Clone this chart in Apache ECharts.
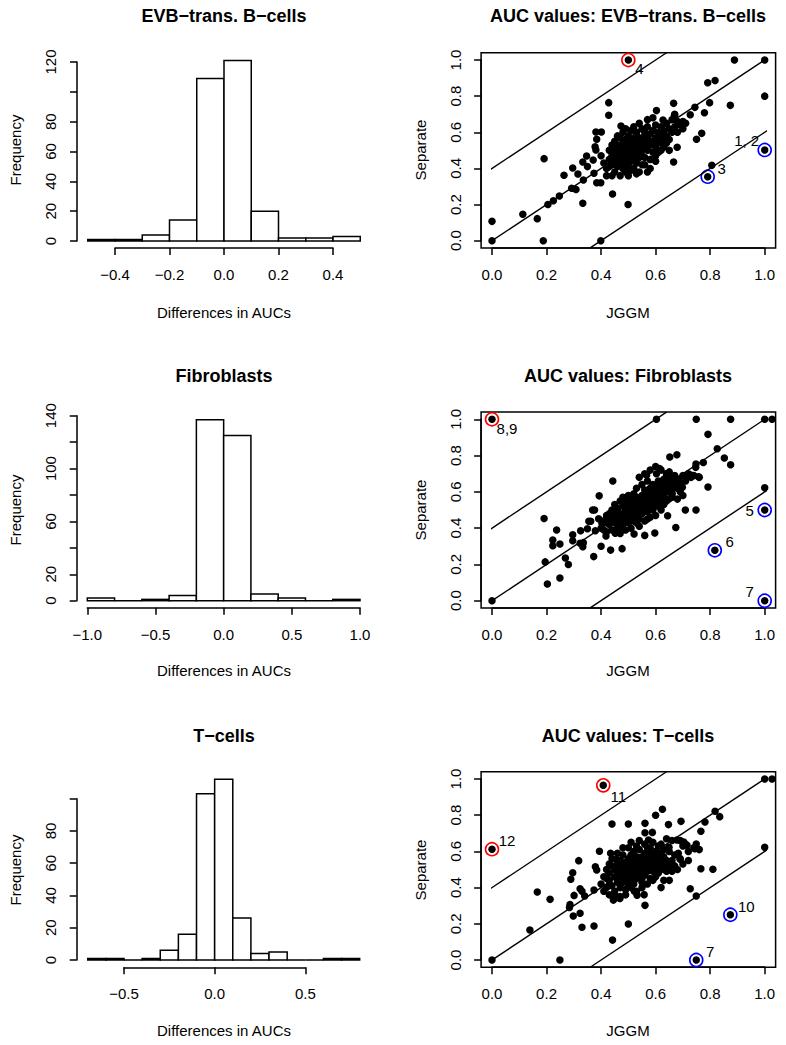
<!DOCTYPE html>
<html><head><meta charset="utf-8">
<script src="https://cdn.jsdelivr.net/npm/echarts@6/dist/echarts.min.js"></script>
<style>html,body{margin:0;padding:0;background:#fff}#c{width:786px;height:1045px}</style>
</head><body><div id="c"></div>
<script>
// ---------------- DATA ----------------
// Histograms of differences in AUCs (bin edges + counts)
const histEVBEdges = [-0.5,-0.4,-0.3,-0.2,-0.1,0.0,0.1,0.2,0.3,0.4,0.5];
const histEVBCounts = [1,1,4,14,109,121,20,2,2,3];
const histFibEdges = [-1.0,-0.8,-0.6,-0.4,-0.2,0.0,0.2,0.4,0.6,0.8,1.0];
const histFibCounts = [2,0,1,4,137,125,5,2,0,1];
const histTEdges = [-0.7,-0.6,-0.5,-0.4,-0.3,-0.2,-0.1,0.0,0.1,0.2,0.3,0.4,0.5,0.6,0.7,0.8];
const histTCounts = [1,1,0,1,6,16,103,112,26,4,5,0,0,1,1];

// Tick labels
const histEVBXLabels = ['−0.4','−0.2','0.0','0.2','0.4'];
const histEVBYLabels = ['0','20','40','60','80','','120'];
const histFibXLabels = ['−1.0','−0.5','0.0','0.5','1.0'];
const histFibYLabels = ['0','20','','60','','100','','140'];
const histTXLabels = ['−0.5','0.0','0.5'];
const histTYLabels = ['0','20','40','60','80',''];
const aucTickLabels = ['0.0','0.2','0.4','0.6','0.8','1.0'];

// AUC scatter: [JGGM, Separate]
const aucEVB = [
[0.0,0.0],[0.0,0.107],[0.113,0.146],[0.166,0.122],[0.188,0.0],[0.399,0.0],[0.191,0.454],[0.205,0.2],[0.225,0.221],[0.247,0.247],
[0.333,0.207],[0.308,0.284],[0.292,0.29],[0.335,0.336],[0.264,0.362],[0.296,0.402],[0.315,0.369],[0.333,0.436],[0.347,0.469],[0.35,0.41],
[0.371,0.447],[0.384,0.561],[0.381,0.502],[0.381,0.602],[0.401,0.602],[0.384,0.321],[0.399,0.321],[0.442,0.258],[0.499,0.2],[0.374,0.373],
[0.378,0.52],[0.428,0.764],[0.428,0.694],[0.473,0.635],[0.889,1.0],[1.0,1.0],[0.791,0.874],[0.818,0.886],[1.0,0.8],[0.666,0.760],
[0.798,0.764],[0.874,0.749],[0.603,0.72],[0.744,0.738],[0.727,0.697],[0.779,0.708],[0.669,0.694],[0.627,0.668],[0.769,0.594],[0.75,0.561],
[0.679,0.517],[0.666,0.436],[0.806,0.417],[0.791,0.354],[1.0,0.502],[0.5,1.0],[0.57,0.38],
[0.42,0.40],[0.43,0.45],[0.43,0.50],[0.44,0.42],[0.44,0.47],[0.45,0.38],[0.45,0.44],[0.45,0.51],[0.45,0.55],[0.46,0.41],
[0.46,0.46],[0.46,0.49],[0.47,0.36],[0.47,0.43],[0.47,0.52],[0.47,0.57],[0.48,0.40],[0.48,0.45],[0.48,0.48],[0.48,0.54],
[0.48,0.60],[0.49,0.38],[0.49,0.43],[0.49,0.50],[0.49,0.56],[0.50,0.41],[0.50,0.46],[0.50,0.52],[0.50,0.58],[0.50,0.36],
[0.51,0.44],[0.51,0.49],[0.51,0.55],[0.51,0.61],[0.52,0.40],[0.52,0.47],[0.52,0.51],[0.52,0.57],[0.53,0.43],[0.53,0.49],
[0.53,0.54],[0.53,0.60],[0.54,0.38],[0.54,0.46],[0.54,0.52],[0.54,0.57],[0.55,0.42],[0.55,0.50],[0.55,0.55],[0.55,0.62],
[0.56,0.46],[0.56,0.53],[0.56,0.58],[0.57,0.50],[0.57,0.56],[0.57,0.63],[0.58,0.45],[0.58,0.53],[0.58,0.59],[0.59,0.49],
[0.59,0.55],[0.59,0.61],[0.60,0.52],[0.60,0.57],[0.60,0.64],[0.60,0.47],[0.61,0.55],[0.61,0.60],[0.62,0.50],[0.62,0.58],
[0.62,0.63],[0.63,0.55],[0.63,0.61],[0.64,0.58],[0.64,0.65],[0.65,0.56],[0.65,0.62],[0.66,0.60],[0.66,0.67],[0.67,0.63],
[0.67,0.70],[0.68,0.66],[0.68,0.60],[0.69,0.64],[0.70,0.66],[0.70,0.62],[0.71,0.65],[0.63,0.52],[0.61,0.49],[0.58,0.40],
[0.56,0.42],[0.53,0.37],[0.51,0.39],[0.44,0.53],[0.46,0.58],[0.49,0.62],[0.52,0.63],[0.54,0.65],[0.57,0.67],[0.59,0.68],
[0.45,0.48],[0.47,0.47],[0.50,0.48],[0.52,0.45],[0.55,0.47],[0.57,0.52],[0.49,0.53],[0.53,0.56],[0.56,0.60],[0.43,0.41],
[0.41,0.43],[0.40,0.47],[0.42,0.36],[0.44,0.36],[0.62,0.54],[0.64,0.54],[0.60,0.44],[0.65,0.50],[0.48,0.51],[0.51,0.52],
[0.54,0.49],[0.46,0.53]
];
const aucFib = [
[0.0,1.0],[0.603,1.0],[0.749,1.0],[0.875,1.0],[1.0,1.0],[1.027,1.0],[0.792,0.917],[0.826,0.838],[0.852,0.787],[0.875,0.749],
[0.775,0.762],[0.748,0.753],[0.747,0.735],[0.678,0.805],[0.652,0.792],[0.792,0.627],[1.0,0.622],[1.0,0.5],[0.748,0.5],[0.709,0.5],
[0.674,0.404],[0.644,0.468],[0.597,0.373],[0.56,0.36],[0.521,0.368],[0.817,0.278],[1.0,0.0],[0.477,0.287],[0.435,0.279],[0.4,0.3],
[0.373,0.243],[0.443,0.66],[0.393,0.578],[0.369,0.5],[0.376,0.5],[0.362,0.438],[0.191,0.453],[0.237,0.39],[0.223,0.335],[0.223,0.303],
[0.249,0.313],[0.195,0.214],[0.269,0.235],[0.28,0.2],[0.203,0.092],[0.249,0.125],[0.0,0.0],[0.296,0.364],[0.296,0.331],[0.325,0.386],
[0.323,0.317],[0.333,0.298],[0.335,0.32],[0.35,0.397],[0.355,0.438],[0.379,0.386],[0.391,0.452],[0.403,0.427],[0.418,0.357],[0.42,0.456],
[0.452,0.372],[0.469,0.408],[0.732,0.692],[0.757,0.683],[0.715,0.683],[0.684,0.665],[0.672,0.628],[0.698,0.625],[0.64,0.7],[0.615,0.728],
[0.603,0.7],[0.567,0.693],[0.66,0.59],[0.65,0.562],
[0.40,0.40],[0.41,0.44],[0.42,0.38],[0.42,0.47],[0.43,0.42],[0.44,0.45],[0.44,0.39],[0.45,0.48],[0.45,0.43],[0.46,0.40],
[0.46,0.46],[0.46,0.51],[0.47,0.44],[0.47,0.48],[0.47,0.37],[0.48,0.42],[0.48,0.47],[0.48,0.52],[0.49,0.45],[0.49,0.50],
[0.49,0.55],[0.50,0.43],[0.50,0.48],[0.50,0.53],[0.51,0.46],[0.51,0.51],[0.51,0.56],[0.52,0.44],[0.52,0.49],[0.52,0.54],
[0.52,0.59],[0.53,0.47],[0.53,0.52],[0.53,0.57],[0.54,0.50],[0.54,0.55],[0.54,0.45],[0.55,0.48],[0.55,0.53],[0.55,0.58],
[0.56,0.51],[0.56,0.56],[0.56,0.61],[0.57,0.49],[0.57,0.54],[0.57,0.59],[0.58,0.52],[0.58,0.57],[0.58,0.62],[0.59,0.55],
[0.59,0.60],[0.59,0.50],[0.60,0.58],[0.60,0.63],[0.60,0.53],[0.61,0.56],[0.61,0.61],[0.61,0.66],[0.62,0.59],[0.62,0.64],
[0.62,0.54],[0.63,0.62],[0.63,0.67],[0.63,0.57],[0.64,0.60],[0.64,0.65],[0.64,0.70],[0.65,0.63],[0.65,0.68],[0.66,0.61],
[0.66,0.66],[0.67,0.64],[0.67,0.69],[0.68,0.67],[0.68,0.62],[0.69,0.65],[0.70,0.69],[0.71,0.66],[0.72,0.70],[0.73,0.68],
[0.74,0.69],[0.76,0.68],[0.58,0.72],[0.56,0.70],[0.54,0.68],[0.57,0.66],[0.55,0.64],[0.53,0.62],[0.62,0.72],[0.60,0.74],
[0.65,0.71],[0.66,0.57],[0.64,0.55],[0.62,0.50],[0.60,0.47],[0.58,0.46],[0.56,0.44],[0.54,0.41],[0.51,0.40],[0.49,0.39],
[0.47,0.55],[0.45,0.53],[0.44,0.50],[0.43,0.48],[0.50,0.58],[0.48,0.57],[0.53,0.43],[0.57,0.45],[0.59,0.64],[0.61,0.52],
[0.63,0.53],[0.66,0.59],[0.69,0.60],[0.70,0.58],[0.68,0.56],[0.42,0.43],[0.41,0.39],[0.47,0.41],[0.52,0.47],[0.55,0.51],
[0.58,0.54],[0.60,0.56],[0.50,0.50],[0.53,0.49]
];
const aucT = [
[0.408,0.965],[0.0,0.612],[1.0,1.0],[1.027,1.0],[0.625,0.833],[0.6,0.8],[0.818,0.822],[0.835,0.792],[0.781,0.762],[0.693,0.766],
[0.647,0.748],[0.5,0.751],[0.44,0.751],[0.766,0.711],[0.561,0.755],[0.561,0.703],[0.588,0.705],[0.574,0.663],[0.678,0.663],[0.703,0.652],
[0.715,0.634],[0.744,0.615],[0.749,0.641],[0.683,0.59],[0.69,0.557],[0.649,0.623],[0.766,0.504],[0.81,0.501],[0.727,0.394],[0.749,0.354],
[1.0,0.623],[0.874,0.25],[0.749,0.0],[0.5,0.199],[0.561,0.302],[0.558,0.361],[0.532,0.358],[0.522,0.38],[0.615,0.515],[0.634,0.5],
[0.394,0.601],[0.435,0.59],[0.455,0.557],[0.318,0.549],[0.379,0.515],[0.384,0.497],[0.296,0.482],[0.289,0.446],[0.323,0.394],[0.33,0.38],
[0.301,0.357],[0.34,0.354],[0.374,0.387],[0.166,0.376],[0.213,0.335],[0.286,0.306],[0.284,0.29],[0.298,0.243],[0.323,0.258],[0.33,0.181],
[0.374,0.188],[0.139,0.166],[0.0,0.0],[0.249,0.0],[0.442,0.11],[0.42,0.46],[0.43,0.414],[0.451,0.359],[0.445,0.331],[0.469,0.34],
[0.40,0.42],[0.41,0.46],[0.42,0.40],[0.42,0.50],[0.43,0.44],[0.43,0.48],[0.44,0.41],[0.44,0.52],[0.45,0.46],[0.45,0.50],
[0.45,0.38],[0.46,0.43],[0.46,0.48],[0.46,0.53],[0.47,0.45],[0.47,0.50],[0.47,0.55],[0.47,0.40],[0.48,0.47],[0.48,0.52],
[0.48,0.43],[0.49,0.49],[0.49,0.54],[0.49,0.45],[0.49,0.39],[0.50,0.47],[0.50,0.51],[0.50,0.56],[0.50,0.42],[0.51,0.49],
[0.51,0.53],[0.51,0.58],[0.51,0.45],[0.52,0.47],[0.52,0.51],[0.52,0.55],[0.52,0.60],[0.52,0.42],[0.53,0.49],[0.53,0.53],
[0.53,0.57],[0.53,0.45],[0.54,0.51],[0.54,0.55],[0.54,0.47],[0.54,0.61],[0.55,0.49],[0.55,0.53],[0.55,0.57],[0.55,0.43],
[0.56,0.51],[0.56,0.55],[0.56,0.59],[0.56,0.47],[0.57,0.53],[0.57,0.57],[0.57,0.49],[0.57,0.62],[0.58,0.51],[0.58,0.55],
[0.58,0.59],[0.58,0.45],[0.59,0.53],[0.59,0.57],[0.59,0.49],[0.60,0.55],[0.60,0.51],[0.60,0.60],[0.61,0.53],[0.61,0.57],
[0.61,0.48],[0.62,0.55],[0.62,0.59],[0.62,0.50],[0.63,0.57],[0.63,0.53],[0.64,0.55],[0.64,0.49],[0.65,0.52],[0.66,0.55],
[0.66,0.49],[0.67,0.52],[0.68,0.50],[0.63,0.61],[0.61,0.63],[0.59,0.65],[0.56,0.64],[0.54,0.66],[0.50,0.62],[0.48,0.58],
[0.46,0.59],[0.44,0.56],[0.43,0.53],[0.42,0.45],[0.41,0.38],[0.43,0.36],[0.45,0.34],[0.47,0.35],[0.49,0.36],[0.51,0.40],
[0.53,0.38],[0.55,0.40],[0.57,0.42],[0.59,0.44],[0.60,0.46],[0.48,0.62],[0.51,0.65],[0.53,0.63],[0.58,0.62],[0.62,0.64],
[0.65,0.60],[0.67,0.58],[0.69,0.56],[0.70,0.53],[0.72,0.55],[0.74,0.62],[0.71,0.64],[0.69,0.66],[0.66,0.66],[0.64,0.67],
[0.72,0.60],[0.70,0.63],[0.76,0.61],[0.65,0.44],[0.63,0.44],[0.62,0.40],[0.50,0.44],[0.46,0.50],[0.53,0.51],[0.57,0.55],
[0.60,0.58],[0.55,0.45],[0.51,0.55],[0.48,0.50]
];

// Highlighted genes: [JGGM, Separate, label]
const hiRedEVB = [[0.5,1.0,'4']];
const hiBlueEVB = [[1.0,0.502,'1, 2'],[0.791,0.354,'3']];
const hiRedFib = [[0.0,1.0,'8,9']];
const hiBlueFib = [[1.0,0.5,'5'],[0.817,0.278,'6'],[1.0,0.0,'7']];
const hiRedT = [[0.408,0.965,'11'],[0.0,0.612,'12']];
const hiBlueT = [[0.874,0.25,'10'],[0.749,0.0,'7']];

// Reference lines y = x + b
const refIntercepts = [0, 0.4, -0.4];
const aucRange = [-0.04, 1.04];

// ---------------- STYLE / LAYOUT ----------------
const FONT = '"Liberation Sans", Arial, Helvetica, sans-serif';
const LW = 1.5;
const labelOffsets = {
  '4':[11,8], '1, 2':[-18,-9], '3':[14,-8], '8,9':[15,9], '5':[-15,0], '6':[15,-9],
  '7F':[-15,-9], '11':[15,11], '12':[15,-9], '10':[16,-8], '7T':[14,-9]
};

const histPanels = [
  {edges:histEVBEdges, counts:histEVBCounts, xMin:-0.4, xMax:0.4, xInt:0.2, yMax:120, yInt:20,
   xl:histEVBXLabels, yl:histEVBYLabels, grid:{left:115, top:62, width:218, height:179}, xOff:7, yOff:38},
  {edges:histFibEdges, counts:histFibCounts, xMin:-1, xMax:1, xInt:0.5, yMax:140, yInt:20,
   xl:histFibXLabels, yl:histFibYLabels, grid:{left:87.3, top:415.7, width:272.7, height:185}, xOff:7, yOff:10.6},
  {edges:histTEdges, counts:histTCounts, xMin:-0.5, xMax:0.5, xInt:0.5, yMax:100, yInt:20,
   xl:histTXLabels, yl:histTYLabels, grid:{left:124, top:798.7, width:181.3, height:161.3}, xOff:7.3, yOff:47.3}
];
const aucPanels = [
  {pts:aucEVB, red:hiRedEVB, blue:hiBlueEVB, key:'', grid:{left:492, top:60, width:272.7, height:180.7}},
  {pts:aucFib, red:hiRedFib, blue:hiBlueFib, key:'F', grid:{left:492, top:419.3, width:272.7, height:181.4}},
  {pts:aucT, red:hiRedT, blue:hiBlueT, key:'T', grid:{left:492, top:779, width:272.7, height:181}}
];

const grids=[], xAxes=[], yAxes=[], series=[];
const axisLineStyle = {color:'#000', width:LW};
function labelFmt(arr, min, step){ return v => { const i=Math.round((v-min)/step); return arr[i]!==undefined?arr[i]:''; }; }
function mkAxis(i, pos, min, max, interval, offset, labels, rotate, margin){
  return {gridIndex:i, type:'value', min:min, max:max, interval:interval, position:pos, offset:offset,
    axisLine:{show:true, onZero:false, lineStyle:axisLineStyle},
    axisTick:{show:true, length:7, lineStyle:axisLineStyle},
    splitLine:{show:false},
    axisLabel:{rotate:rotate, margin:margin, fontSize:15, fontFamily:FONT, color:'#000',
      showMinLabel:true, showMaxLabel:true, formatter:labelFmt(labels,min,interval)}};
}

histPanels.forEach((p,i)=>{
  grids.push(p.grid);
  xAxes.push(mkAxis(i,'bottom',p.xMin,p.xMax,p.xInt,p.xOff,p.xl,0,19));
  yAxes.push(mkAxis(i,'left',0,p.yMax,p.yInt,p.yOff,p.yl,90,19));
  series.push({type:'custom', xAxisIndex:i, yAxisIndex:i, clip:false, silent:true,
    data:p.counts.map((c,k)=>[p.edges[k], p.edges[k+1], c]),
    encode:{x:[0,1], y:2},
    renderItem:(params, api)=>{
      const a=api.coord([api.value(0), api.value(2)]);
      const b=api.coord([api.value(1), 0]);
      return {type:'polygon', shape:{points:[[a[0],b[1]],[a[0],a[1]],[b[0],a[1]],[b[0],b[1]]]},
        style:{fill:'#fff', stroke:'#000', lineWidth:LW}};
    }});
});

aucPanels.forEach((p,j)=>{
  const i=j+3;
  grids.push(p.grid);
  const h=p.grid.height, w=p.grid.width;
  xAxes.push(mkAxis(i,'bottom',0,1,0.2,0.04*h,aucTickLabels,0,19));
  yAxes.push(mkAxis(i,'left',0,1,0.2,0.04*w,aucTickLabels,90,18));
  // box
  series.push({type:'custom', xAxisIndex:i, yAxisIndex:i, clip:false, silent:true,
    data:[[aucRange[0], aucRange[0], aucRange[1], aucRange[1]]],
    renderItem:(params, api)=>{
      const a=api.coord([api.value(0), api.value(3)]);
      const b=api.coord([api.value(2), api.value(1)]);
      return {type:'rect', shape:{x:a[0], y:a[1], width:b[0]-a[0], height:b[1]-a[1]},
        style:{fill:'none', stroke:'#000', lineWidth:LW}};
    }});
  // reference lines y = x + b, clipped to box
  refIntercepts.forEach(b=>{
    const lo=aucRange[0], hi=aucRange[1];
    const x0=Math.max(lo, lo-b), x1=Math.min(hi, hi-b);
    series.push({type:'line', xAxisIndex:i, yAxisIndex:i, clip:false, silent:true, symbol:'none',
      data:[[x0,x0+b],[x1,x1+b]], lineStyle:{color:'#000', width:1.4}});
  });
  series.push({type:'scatter', xAxisIndex:i, yAxisIndex:i, clip:false, silent:true, symbolSize:7.5,
    data:p.pts, itemStyle:{color:'#000', opacity:1}});
  [['red','#ff0000'],['blue','#0000ff']].forEach(([k,col])=>{
    series.push({type:'scatter', xAxisIndex:i, yAxisIndex:i, clip:false, silent:true, symbolSize:13,
      itemStyle:{color:'rgba(0,0,0,0)', borderColor:col, borderWidth:1.6, opacity:1},
      label:{show:true, position:'inside', fontSize:15, fontFamily:FONT, color:'#000', formatter:q=>q.data.name},
      data:p[k].map(d=>{
        const off = labelOffsets[d[2]+p.key] || labelOffsets[d[2]];
        return {value:[d[0],d[1]], name:d[2], label:{offset:off}};
      })});
  });
});

// ---------------- TEXT ----------------
const graphic=[];
function txt(t,x,y,font,rot){ graphic.push({type:'text', x:x, y:y, rotation:rot||0, silent:true,
  style:{text:t, font:font, fill:'#000', align:'center', verticalAlign:'middle'}}); }
const TF='bold 18px '+FONT, LF='15px '+FONT;
const rowY=[16,376,736], xtY=[312,670,1030], ytY=[150,510,870];
const histTitles=['EVB−trans. B−cells','Fibroblasts','T−cells'];
const aucTitles=['AUC values: EVB−trans. B−cells','AUC values: Fibroblasts','AUC values: T−cells'];
for(let r=0;r<3;r++){
  txt(histTitles[r],224,rowY[r],TF); txt(aucTitles[r],628,rowY[r],TF);
  txt('Differences in AUCs',224,xtY[r],LF); txt('JGGM',628,xtY[r],LF);
  txt('Frequency',15,ytY[r],LF,Math.PI/2); txt('Separate',420,ytY[r],LF,Math.PI/2);
}

const chart = echarts.init(document.getElementById('c'), null, {renderer:'svg'});
chart.setOption({animation:false, backgroundColor:'#fff', grid:grids, xAxis:xAxes, yAxis:yAxes, series:series, graphic:graphic});
</script></body></html>
